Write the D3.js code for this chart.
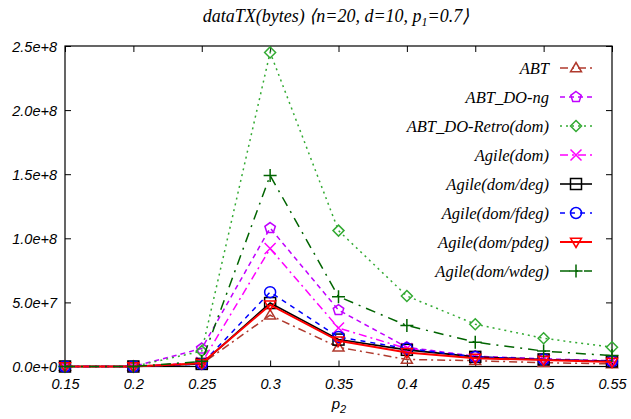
<!DOCTYPE html>
<html><head><meta charset="utf-8">
<script src="https://cdn.jsdelivr.net/npm/d3@7"></script>
<style>body{margin:0;background:#fff}svg{display:block}</style>
</head><body><svg id="c" width="631" height="419"></svg>
<script>
const p2 = [0.15,0.2,0.25,0.3,0.35,0.4,0.45,0.5,0.55];
const xTicks = [0.15,0.2,0.25,0.3,0.35,0.4,0.45,0.5,0.55];
const yTicks = [0,5e7,1e8,1.5e8,2e8,2.5e8];
const yTickLabels = ["0.0e+0","5.0e+7","1.0e+8","1.5e+8","2.0e+8","2.5e+8"];
const seriesNames = ["ABT","ABT_DO-ng","ABT_DO-Retro(dom)","Agile(dom)","Agile(dom/deg)","Agile(dom/fdeg)","Agile(dom/pdeg)","Agile(dom/wdeg)"];
const ABT      = [0,0,2e6,4.0e7,1.5e7,5.5e6,4.5e6,3e6,2e6];
const ABT_DO_ng= [0,0,1.4e7,1.08e8,4.4e7,1.5e7,8e6,6e6,4.5e6];
const Retro    = [0,0,1.2e7,2.45e8,1.06e8,5.5e7,3.3e7,2.2e7,1.5e7];
const AgDom    = [0,0,3e6,9.2e7,3.0e7,1.4e7,7.5e6,5.5e6,4e6];
const AgDeg    = [0,0,2e6,4.95e7,2.1e7,1.3e7,7.5e6,5.5e6,4e6];
const AgFdeg   = [0,0,2e6,5.8e7,2.3e7,1.4e7,7.5e6,5.5e6,4e6];
const AgPdeg   = [0,0,2.5e6,4.8e7,2.0e7,1.1e7,6.5e6,5e6,3.5e6];
const AgWdeg   = [0,0,4e6,1.49e8,5.45e7,3.2e7,1.9e7,1.2e7,8.5e6];
const seriesValues = [ABT,ABT_DO_ng,Retro,AgDom,AgDeg,AgFdeg,AgPdeg,AgWdeg];
const colors = ["#b03a2e","#c000ff","#33aa33","#ff00ff","#000000","#0000ff","#ff0000","#006400"];
const dashes = ["8,4,2,4","5,4","2,4","8,4,2,4","none","5,5","none","10,6,2,6"];
const widths = [1.5,1.5,1.5,1.5,1.6,1.5,2,1.5];
const markers = ["triUp","pent","diamond","x","square","circle","triDown","plus"];

const svg = d3.select("#c");
const L=65,R=612,T=46,B=366.5;
const x = d3.scaleLinear().domain([0.15,0.55]).range([L,R]);
const y = d3.scaleLinear().domain([0,2.5e8]).range([B,T]);

// title
const title = svg.append("text").attr("x",336).attr("y",22).attr("text-anchor","middle")
  .attr("font-family","Liberation Serif").attr("font-style","italic").attr("font-size",18);
title.append("tspan").text("dataTX(bytes) \u27E8n=20, d=10, p");
title.append("tspan").attr("font-size",12).attr("dy",4).text("1");
title.append("tspan").attr("dy",-4).text("=0.7\u27E9");

// frame
svg.append("rect").attr("x",L).attr("y",T).attr("width",R-L).attr("height",B-T)
  .attr("fill","none").attr("stroke","#000").attr("stroke-width",1.2);

// axes ticks (inward, mirrored)
const gx = svg.append("g").attr("transform",`translate(0,${B})`)
  .call(d3.axisBottom(x).tickValues(xTicks).tickSize(-6).tickFormat(d=>String(d)));
const gxt = svg.append("g").attr("transform",`translate(0,${T})`)
  .call(d3.axisTop(x).tickValues(xTicks).tickSize(-6).tickFormat(""));
const gy = svg.append("g").attr("transform",`translate(${L},0)`)
  .call(d3.axisLeft(y).tickValues(yTicks).tickSize(-6).tickFormat((d,i)=>yTickLabels[i]));
const gyr = svg.append("g").attr("transform",`translate(${R},0)`)
  .call(d3.axisRight(y).tickValues(yTicks).tickSize(-6).tickFormat(""));
[gx,gxt,gy,gyr].forEach(g=>{g.select(".domain").remove();g.selectAll("line").attr("stroke","#000");});
gx.selectAll("text").attr("dy",null).attr("y",22).attr("font-family","Liberation Sans").attr("font-style","italic").attr("font-size",14.5).attr("fill","#000");
gy.selectAll("text").attr("x",-8).attr("dy","0.35em").attr("font-family","Liberation Sans").attr("font-style","italic").attr("font-size",14.5).attr("fill","#000");

// x label
const xl = svg.append("text").attr("x",339).attr("y",409).attr("text-anchor","middle")
  .attr("font-family","Liberation Sans").attr("font-style","italic").attr("font-size",15);
xl.append("tspan").text("p");
xl.append("tspan").attr("font-size",11).attr("dy",4).text("2");

function drawMarker(g,type,cx,cy,color){
  const s=5.5;
  const st={fill:"none",stroke:color,"stroke-width":1.5};
  let el;
  if(type==="triUp") el=g.append("path").attr("d",`M${cx},${cy-s}L${cx+s},${cy+s*0.7}L${cx-s},${cy+s*0.7}Z`);
  else if(type==="triDown") el=g.append("path").attr("d",`M${cx},${cy+s}L${cx+s},${cy-s*0.7}L${cx-s},${cy-s*0.7}Z`);
  else if(type==="pent") el=g.append("path").attr("d",d3.range(5).map((k,i)=>{const a=-Math.PI/2+k*2*Math.PI/5;return (i?"L":"M")+(cx+s*Math.cos(a))+","+(cy+s*Math.sin(a));}).join("")+"Z");
  else if(type==="diamond") el=g.append("path").attr("d",`M${cx},${cy-s}L${cx+s},${cy}L${cx},${cy+s}L${cx-s},${cy}Z`);
  else if(type==="x") el=g.append("path").attr("d",`M${cx-s},${cy-s}L${cx+s},${cy+s}M${cx-s},${cy+s}L${cx+s},${cy-s}`);
  else if(type==="plus") el=g.append("path").attr("d",`M${cx-s-1},${cy}L${cx+s+1},${cy}M${cx},${cy-s-1}L${cx},${cy+s+1}`);
  else if(type==="square") el=g.append("rect").attr("x",cx-s).attr("y",cy-s).attr("width",2*s).attr("height",2*s);
  else if(type==="circle") el=g.append("circle").attr("cx",cx).attr("cy",cy).attr("r",s);
  Object.entries(st).forEach(([k,v])=>el.attr(k,v));
}

const line = d3.line().x((d,i)=>x(p2[i])).y(d=>y(d));
const plot = svg.append("g");
seriesValues.forEach((vals,si)=>{
  const g = plot.append("g");
  g.append("path").datum(vals).attr("d",line).attr("fill","none").attr("stroke",colors[si])
    .attr("stroke-width",widths[si]).attr("stroke-dasharray",dashes[si]);
  vals.forEach((v,i)=>drawMarker(g,markers[si],x(p2[i]),y(v),colors[si]));
});

// legend
const leg = svg.append("g");
seriesNames.forEach((n,i)=>{
  const ly = 68 + i*29;
  leg.append("text").attr("x",549).attr("y",ly).attr("dy","0.35em").attr("text-anchor","end")
    .attr("font-family","Liberation Serif").attr("font-style","italic").attr("font-size",16.5).text(n);
  leg.append("line").attr("x1",560).attr("x2",592).attr("y1",ly).attr("y2",ly)
    .attr("stroke",colors[i]).attr("stroke-width",widths[i]).attr("stroke-dasharray",dashes[i]);
  drawMarker(leg,markers[i],576,ly,colors[i]);
});
</script></body></html>
